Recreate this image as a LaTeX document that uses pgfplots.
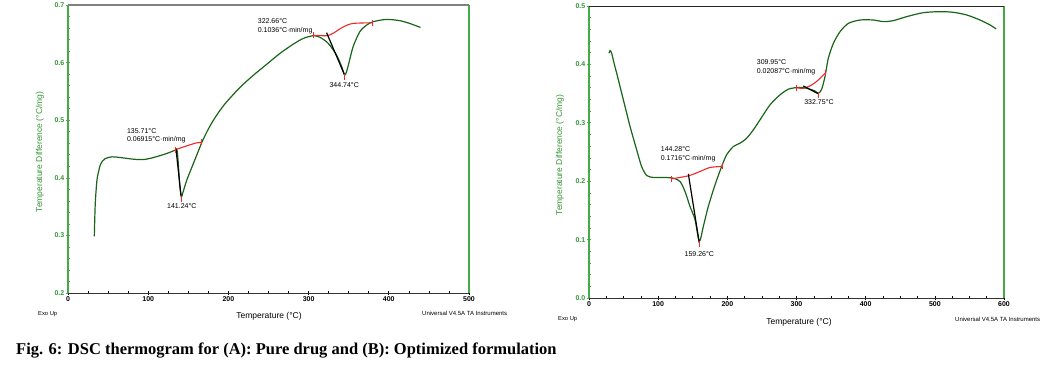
\documentclass[border=0pt]{standalone}
\usepackage{pgfplots}
\pgfplotsset{compat=1.18}
\usepackage{fontspec}
\setmainfont{Liberation Sans}
\newfontfamily\capfont{Liberation Serif}
\definecolor{curvegreen}{RGB}{25,100,25}
\definecolor{axgreen}{RGB}{70,170,70}
\definecolor{labgreen}{RGB}{55,150,55}
\definecolor{basered}{RGB}{240,40,40}

\tikzset{
  curve/.style={curvegreen, line width=1.2pt, smooth, tension=0.45},
  base/.style={basered, line width=1.1pt, smooth, tension=0.5},
  endmk/.style={basered, only marks, mark=|, mark size=3pt, mark options={line width=1pt}},
  tang/.style={black, line width=1.2pt},
  ann/.style={font=\fontsize{7}{8.3}\selectfont, black, inner sep=0pt, align=left},
}
\pgfplotsset{
  dsc/.style={
    scale only axis,
    axis line style={draw=none},
    clip=false,
    tick align=center,
    xtick pos=bottom,
    ytick pos=left,
    major tick length=4pt,
    minor tick length=3pt,
    x tick style={black, line width=0.6pt},
    y tick style={axgreen, line width=0.6pt},
    minor x tick num=3,
    minor y tick num=4,
    /pgf/number format/assume math mode=true,
    xticklabel style={font=\fontsize{7}{7}\selectfont\bfseries, black, inner sep=1.5pt},
    yticklabel style={font=\fontsize{7}{7}\selectfont\bfseries, labgreen, inner sep=1.5pt,
      /pgf/number format/.cd, fixed, fixed zerofill, precision=1},
  }
}

\begin{document}
\begin{tikzpicture}
\path[use as bounding box] (0pt,0pt) rectangle (1063pt,367pt);

% ---------------- (A) Pure drug ----------------
\begin{axis}[dsc,
  at={(68pt,74pt)}, anchor=south west,
  width=401pt, height=288pt,
  xmin=0, xmax=500, ymin=0.2, ymax=0.7,
  xtick={0,100,...,500}, ytick={0.2,0.3,...,0.7},
]
\addplot[curve] coordinates {
(32.8,0.2985) (33.5,0.335) (34.2,0.361) (36.1,0.396) (38.5,0.413) (40.2,0.422)
(43,0.429) (46.5,0.4335) (54.8,0.4364) (65.1,0.4352) (81.7,0.4323) (94.2,0.4317)
(106.6,0.4352) (123.2,0.4422) (133.6,0.448) (136,0.448) (137.5,0.425) (139.2,0.39)
(141.2,0.367) (143,0.373) (148.1,0.396) (156.4,0.425) (164.7,0.454) (168,0.465)
(174,0.482) (181.3,0.500) (189.5,0.517) (197.9,0.532) (214.5,0.557) (231.1,0.578)
(247.7,0.597) (264.3,0.616) (280.9,0.632) (293.4,0.642) (305.8,0.6467) (314.1,0.644)
(324.5,0.6334) (334.9,0.613) (341.5,0.592) (344.9,0.578) (347.5,0.585) (350,0.598)
(355.6,0.628) (363.9,0.6537) (372.2,0.665) (380.5,0.671) (397.1,0.675) (413.7,0.6728)
(426.1,0.668) (439.5,0.661)
};
\addplot[base] coordinates {(134.4,0.449) (148.1,0.4555) (160.6,0.4607) (166.8,0.4613)};
\addplot[base] coordinates {(305.8,0.6475) (322.4,0.6467) (330.7,0.651) (343.2,0.662) (355.6,0.668) (379.7,0.669)};
\addplot[tang] coordinates {(134.6,0.451) (140.9,0.369)};
\addplot[tang] coordinates {(322.4,0.652) (344.4,0.580)};
\addplot[endmk] coordinates {(134.4,0.449) (166.3,0.4613) (141.2,0.364) (305.8,0.6475) (379.7,0.669) (344.9,0.575)};
\node[ann, anchor=north west] at (axis cs:73.4,0.486) {135.71°C\\0.06915°C·min/mg};
\node[ann, anchor=center] at (axis cs:141.9,0.351) {141.24°C};
\node[ann, anchor=north west] at (axis cs:236.5,0.676) {322.66°C\\0.1036°C·min/mg};
\node[ann, anchor=center] at (axis cs:344.4,0.5615) {344.74°C};
\draw[axgreen, line width=1.1pt] (rel axis cs:0,0) -- (rel axis cs:0,1);
\draw[axgreen, line width=1.1pt] (rel axis cs:1,0) -- (rel axis cs:1,1);
\draw[black!80, line width=0.7pt] (rel axis cs:0,0) -- (rel axis cs:1,0);
\draw[gray, line width=1.8pt] (rel axis cs:0,1) -- (rel axis cs:1,1);
\end{axis}

% ---------------- (B) Optimized formulation ----------------
\begin{axis}[dsc,
  at={(589pt,69pt)}, anchor=south west,
  width=415pt, height=292pt,
  xmin=0, xmax=600, ymin=0, ymax=0.5,
  xtick={0,100,...,600}, ytick={0,0.1,...,0.5},
]
\addplot[curve] coordinates {
(28.9,0.419) (30.4,0.4236) (32.8,0.419) (36,0.403) (40,0.385) (49.6,0.3398)
(59.3,0.294) (68.9,0.2537) (76.1,0.225) (83.4,0.2098) (93.0,0.2064) (107.5,0.2064)
(121.9,0.2052) (131.6,0.1995) (138.8,0.1824) (146.0,0.1568) (153.3,0.134) (159.5,0.097)
(165.3,0.1226) (172.5,0.1568) (182.2,0.1938) (191.8,0.2252) (199.0,0.2452) (208.7,0.2594)
(218.3,0.2651) (228.0,0.2737) (237.6,0.2879) (247.2,0.305) (261.7,0.3307) (276.1,0.3478)
(288.2,0.3575) (300.2,0.3603) (309.9,0.3603) (319.5,0.3575) (326.7,0.3546) (331.6,0.3506)
(336.4,0.3575) (341.2,0.3791) (346.0,0.4105) (353.3,0.436) (362.9,0.456) (375.0,0.4703)
(391.9,0.476) (411.2,0.476) (425.7,0.4732) (440.1,0.475) (459.4,0.4818) (483.4,0.4886)
(507.5,0.4903) (526.8,0.4892) (546.1,0.4846) (565.4,0.476) (579.9,0.4675) (588.6,0.4607)
};
\addplot[base] coordinates {(119.5,0.2041) (143.6,0.2092) (160.5,0.2166) (175.0,0.2235) (192.8,0.2252)};
\addplot[base] coordinates {(299.3,0.3603) (309.9,0.359) (321.9,0.3648) (331.6,0.3734) (341.2,0.3848)};
\addplot[tang] coordinates {(143.6,0.2127) (159.5,0.094)};
\addplot[tang] coordinates {(309.9,0.3631) (331.6,0.3495)};
\addplot[endmk] coordinates {(119.5,0.2041) (192.8,0.2252) (159.5,0.092) (299.3,0.3603) (341.2,0.3848) (331.6,0.3480)};
\node[ann, anchor=north west] at (axis cs:103.6,0.259) {144.28°C\\0.1716°C·min/mg};
\node[ann, anchor=center] at (axis cs:159.5,0.0758) {159.26°C};
\node[ann, anchor=north west] at (axis cs:242.4,0.408) {309.95°C\\0.02087°C·min/mg};
\node[ann, anchor=center] at (axis cs:332.5,0.3352) {332.75°C};
\draw[axgreen, line width=1.1pt] (rel axis cs:0,0) -- (rel axis cs:0,1);
\draw[axgreen, line width=1.1pt] (rel axis cs:1,0) -- (rel axis cs:1,1);
\draw[black!80, line width=0.7pt] (rel axis cs:0,0) -- (rel axis cs:1,0);
\draw[black!85, line width=0.8pt] (rel axis cs:0,1) -- (rel axis cs:1,1);
\end{axis}

% ---------------- labels ----------------
\node[labgreen, rotate=90, font=\fontsize{8.5}{9}\selectfont] at (40pt,215pt) {Temperature Difference (°C/mg)};
\node[labgreen, rotate=90, font=\fontsize{8.5}{9}\selectfont] at (560pt,212pt) {Temperature Difference (°C/mg)};
\node[font=\fontsize{8.5}{9}\selectfont] at (269pt,51pt) {Temperature (°C)};
\node[font=\fontsize{8.5}{9}\selectfont] at (799pt,45pt) {Temperature (°C)};
\node[font=\fontsize{5.8}{6}\selectfont, anchor=west, inner sep=0pt] at (38pt,53pt) {Exo Up};
\node[font=\fontsize{5.8}{6}\selectfont, anchor=west, inner sep=0pt] at (558pt,48pt) {Exo Up};
\node[font=\fontsize{6}{6}\selectfont, anchor=west, inner sep=0pt] at (422pt,54pt) {Universal V4.5A TA Instruments};
\node[font=\fontsize{6}{6}\selectfont, anchor=west, inner sep=0pt] at (955pt,48pt) {Universal V4.5A TA Instruments};
\node[font=\capfont\bfseries\fontsize{16.5}{17}\selectfont, anchor=base west, inner sep=0pt] at (16pt,13pt) {Fig. 6: DSC thermogram for (A): Pure drug and (B): Optimized formulation};
\end{tikzpicture}
\end{document}
